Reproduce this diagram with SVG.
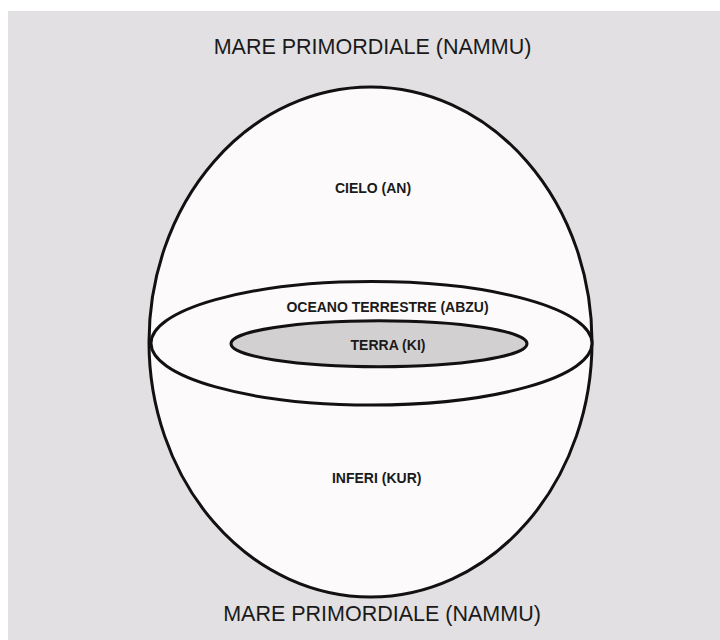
<svg xmlns="http://www.w3.org/2000/svg" width="720" height="640" viewBox="0 0 720 640">
<style>
.shape{stroke:#111;stroke-width:3}
.big{font-family:"Liberation Sans",Arial,sans-serif;font-size:21.5px;fill:#1a1a1a;text-anchor:middle}
.lbl{font-family:"Liberation Sans",Arial,sans-serif;font-size:14px;font-weight:bold;fill:#1a1a1a;text-anchor:middle}
</style>
<rect x="0" y="0" width="720" height="640" fill="#ffffff"/>
<rect x="8" y="11" width="712" height="629" fill="#e2e0e2"/>
<g id="sfera">
<ellipse class="shape" cx="370.5" cy="342" rx="221.5" ry="255" fill="#fcfafb"/>
</g>
<g id="oceano">
<ellipse class="shape" cx="371.5" cy="343.3" rx="220.5" ry="61.7" fill="#fcfafb"/>
</g>
<g id="terra">
<ellipse class="shape" cx="379" cy="343.7" rx="148" ry="23" fill="#d2d0d1"/>
</g>
<g id="labels">
<text class="big" x="372.5" y="54">MARE PRIMORDIALE (NAMMU)</text>
<text class="big" x="382" y="621">MARE PRIMORDIALE (NAMMU)</text>
<text class="lbl" x="373" y="193">CIELO (AN)</text>
<text class="lbl" x="387.5" y="311.5">OCEANO TERRESTRE (ABZU)</text>
<text class="lbl" x="388" y="350">TERRA (KI)</text>
<text class="lbl" x="376.7" y="483">INFERI (KUR)</text>
</g>
<g id="connectors"/>
</svg>
